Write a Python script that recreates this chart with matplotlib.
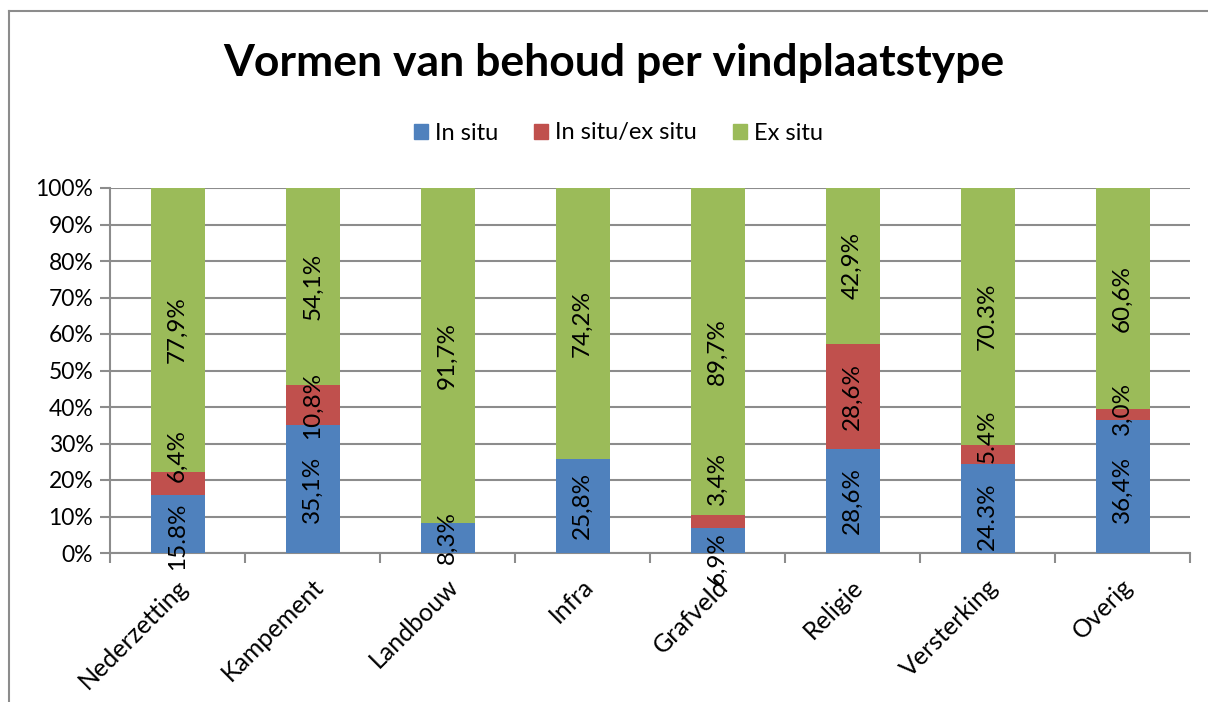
import numpy as np
import matplotlib.pyplot as plt
from matplotlib.lines import Line2D

# Vormen van behoud per vindplaatstype (percentages)
categories = ['Nederzetting', 'Kampement', 'Landbouw', 'Infra',
              'Grafveld', 'Religie', 'Versterking', 'Overig']
in_situ = [15.8, 35.1, 8.3, 25.8, 6.9, 28.6, 24.3, 36.4]
in_ex_situ = [6.4, 10.8, 0.0, 0.0, 3.4, 28.6, 5.4, 3.0]
ex_situ = [77.9, 54.1, 91.7, 74.2, 89.7, 42.9, 70.3, 60.6]

# label texts as printed in the source (mixed decimal separators)
lbl_in_situ = ['15.8%', '35,1%', '8,3%', '25,8%', '6,9%', '28,6%', '24.3%', '36,4%']
lbl_in_ex_situ = ['6,4%', '10,8%', '', '', '3,4%', '28,6%', '5.4%', '3,0%']
lbl_ex_situ = ['77,9%', '54,1%', '91,7%', '74,2%', '89,7%', '42,9%', '70.3%', '60,6%']

series = ['In situ', 'In situ/ex situ', 'Ex situ']
colors = ['#4F81BD', '#C0504D', '#9BBB59']
grid_col = '#8C8C8C'

plt.rcParams['font.family'] = ['Lato', 'DejaVu Sans']

fig = plt.figure(figsize=(12.08, 7.02), dpi=100)
ax = fig.add_axes([110 / 1208, 1 - 553 / 702, 1080 / 1208, 365 / 702])

x = np.arange(len(categories))
a = np.array(in_situ)
b = np.array(in_ex_situ)
c = np.array(ex_situ)
w = 0.4

ax.bar(x, a, w, color=colors[0], label=series[0], zorder=3)
ax.bar(x, b, w, bottom=a, color=colors[1], label=series[1], zorder=3)
ax.bar(x, c, w, bottom=a + b, color=colors[2], label=series[2], zorder=3)

# label positions: centered, small segments pushed apart like Excel does
for i in range(len(x)):
    ca = a[i] / 2
    cb = a[i] + b[i] / 2
    cc = a[i] + b[i] + c[i] / 2
    if lbl_in_ex_situ[i] and cb - ca < 22:
        shift = 22 - (cb - ca)
        ca -= shift * 0.3
        cb += shift * 0.7
    for yy, t in [(ca, lbl_in_situ[i]), (cb, lbl_in_ex_situ[i]), (cc, lbl_ex_situ[i])]:
        if t:
            ax.text(x[i], yy, t, rotation=90, ha='center', va='center',
                    fontsize=17.5, color='black', zorder=5, clip_on=False)

ax.set_xlim(-0.5, len(x) - 0.5)
ax.set_ylim(0, 100)
ax.set_yticks(np.arange(0, 101, 10))
ax.set_yticklabels([f'{v}%' for v in range(0, 101, 10)], fontsize=16.5)
ax.yaxis.grid(True, color=grid_col, linewidth=1.5, zorder=0)

ax.set_xticks(np.arange(-0.5, len(x), 1.0))
ax.set_xticklabels([])
ax.tick_params(axis='both', color=grid_col, length=7, width=1.5)
ax.tick_params(axis='y', pad=5)
for i, name in enumerate(categories):
    ax.text(x[i] - 0.01, -6, name, rotation=45, ha='right', va='top',
            rotation_mode='anchor', fontsize=18, transform=ax.transData)

for s in ['top', 'right']:
    ax.spines[s].set_visible(False)
for s in ['left', 'bottom']:
    ax.spines[s].set_color(grid_col)
    ax.spines[s].set_linewidth(1.5)

fig.text(0.508, 1 - 63 / 702, 'Vormen van behoud per vindplaatstype',
         ha='center', va='center', fontsize=32, fontweight='bold')

handles = [plt.Rectangle((0, 0), 1, 1, color=col) for col in colors]
fig.legend(handles, series, loc='center', bbox_to_anchor=(0.512, 1 - 133 / 702),
           ncol=3, frameon=False, fontsize=17, handlelength=0.6, handleheight=0.6,
           columnspacing=1.5, handletextpad=0.3)

# outer chart border (left and top)
fig.add_artist(Line2D([9 / 1208, 9 / 1208], [0, 1 - 11 / 702], transform=fig.transFigure,
                      color='#8C8C8C', linewidth=1.5))
fig.add_artist(Line2D([9 / 1208, 1], [1 - 11 / 702, 1 - 11 / 702], transform=fig.transFigure,
                      color='#8C8C8C', linewidth=1.5))

fig.savefig('out.png', dpi=100)
